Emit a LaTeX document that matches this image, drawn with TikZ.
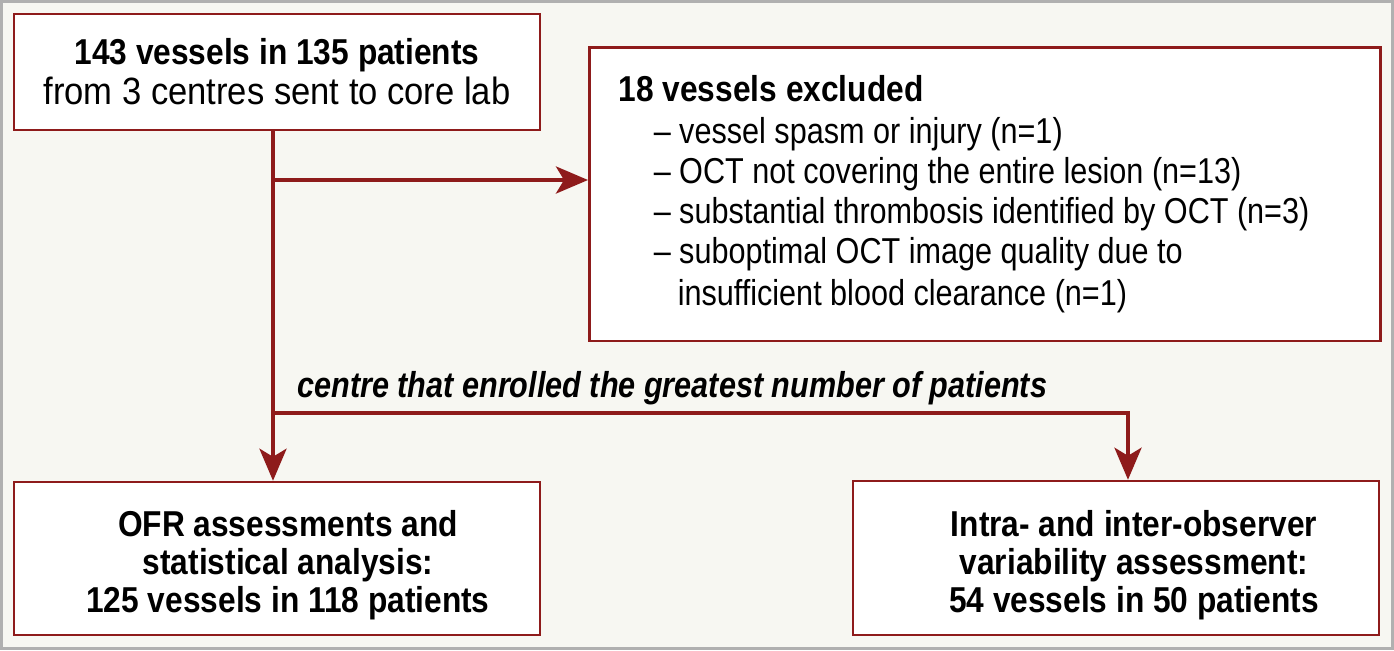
\documentclass[tikz,border=0pt]{standalone}
\usepackage{fontspec}
\setmainfont{Liberation Sans}[FakeStretch=0.85, BoldFeatures={FakeStretch=0.88}, BoldItalicFeatures={FakeStretch=0.85}]
\usetikzlibrary{arrows.meta}

\definecolor{flowred}{RGB}{142,27,27}
\definecolor{paper}{RGB}{247,247,242}
\definecolor{frame}{RGB}{176,176,176}

\tikzset{
  box/.style={draw=flowred, line width=1.25pt, fill=white, inner sep=0pt, align=center,
    font=\fontsize{18}{20}\selectfont},
  result/.style={box, font=\bfseries\fontsize{18}{19}\selectfont, minimum width=263pt, minimum height=77pt},
  flow/.style={draw=flowred, line width=2pt, -{Stealth[length=16pt, width=13.5pt, inset=4pt]}},
  link/.style={draw=flowred, line width=2pt}
}

\begin{document}
\begin{tikzpicture}[x=0.5pt, y=-0.5pt]
	\useasboundingbox (0,0) rectangle (1394,650);
	\draw[frame, fill=paper, line width=1.5pt] (1.5,1.5) rectangle (1392.5,648.5);

	% boxes
	\node[box, minimum width=263pt, minimum height=58pt] (sent) at (277,72)
		{\textbf{143 vessels in 135 patients}\\{\fontsize{19}{20}\selectfont\addfontfeature{FakeStretch=0.91}from 3 centres sent to core lab}};
	\node[box, anchor=north west, align=flush left, minimum width=395.5pt, minimum height=137pt,
		inner xsep=14.5pt, inner ysep=14pt, text width=366pt] (excl) at (588,46)
		{\textbf{18 vessels excluded}\\[1pt]
		\hspace*{17.5pt}– vessel spasm or injury (n=1)\\
		\hspace*{17.5pt}– OCT not covering the entire lesion (n=13)\\
		\hspace*{17.5pt}– substantial thrombosis identified by OCT (n=3)\\
		\hspace*{17.5pt}– suboptimal OCT image quality due to\\[1pt]
		\hspace*{29.5pt}insufficient blood clearance (n=1)};
	\node[result, minimum height=76.5pt] (ofr) at (277,558.5)
		{\rule{0pt}{20pt}\hspace*{11pt}OFR assessments and\\\hspace*{11pt}statistical analysis:\\\hspace*{11pt}125 vessels in 118 patients};
	\node[result] (var) at (1116,558)
		{\rule{0pt}{20pt}\hspace*{18pt}Intra- and inter-observer\\\hspace*{18pt}variability assessment:\\\hspace*{18pt}54 vessels in 50 patients};

	% connectors
	\coordinate (split) at (273,180);
	\coordinate (fork) at (273,413);
	\coordinate (turn) at (1128,413);
	\draw[link] (split |- sent.south) -- (split);
	\draw[flow] (split) -- (split -| excl.west);
	\draw[flow] (split) -- (split |- ofr.north);
	\draw[flow] (fork) -- (turn) -- (turn |- var.north);
	\node[anchor=base west, inner sep=0pt, font=\bfseries\itshape\fontsize{18}{20}\selectfont] (centre) at (297,397)
		{centre that enrolled the greatest number of patients};
\end{tikzpicture}
\end{document}
